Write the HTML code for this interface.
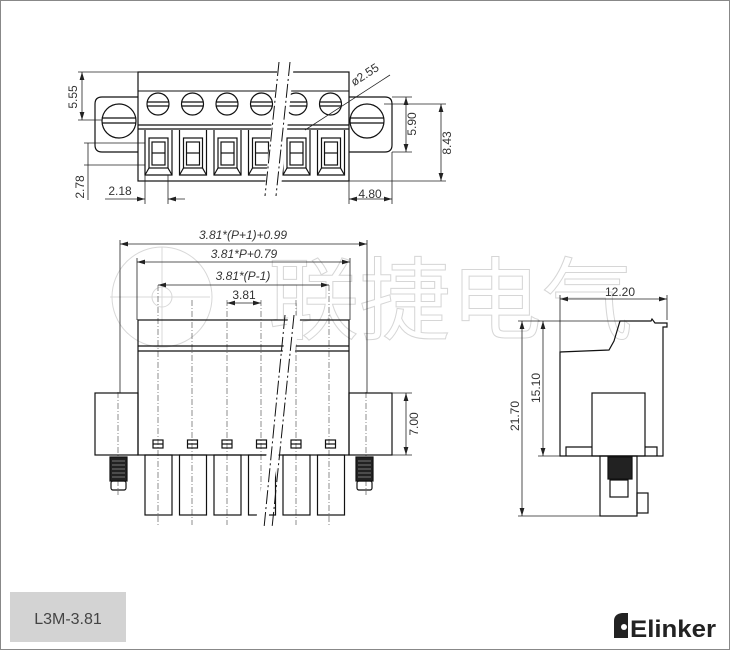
<!DOCTYPE html>
<html><head><meta charset="utf-8"><style>
html,body{margin:0;padding:0;background:#fff}
svg{display:block}
text{font-family:"Liberation Sans",sans-serif;fill:#333}
</style></head><body>
<svg width="730" height="650" viewBox="0 0 730 650" xmlns="http://www.w3.org/2000/svg">
<defs>
<marker id="a" viewBox="0 0 10 6" refX="10" refY="3" markerWidth="8" markerHeight="5" orient="auto-start-reverse" markerUnits="userSpaceOnUse"><path d="M0 0 L10 3 L0 6 Z" fill="#222"/></marker>
</defs>
<rect x="0.5" y="0.5" width="729" height="649" fill="#fff" stroke="#888"/>
<!-- watermark -->
<g stroke="#d8d8d8" fill="none" stroke-width="1">
<circle cx="162" cy="297" r="50"/>
<circle cx="162" cy="297" r="10"/>
<line x1="110" y1="297" x2="210" y2="297"/>
<line x1="162" y1="247" x2="162" y2="347"/>
</g>
<text x="268" y="332" font-size="90" style="font-family:'Noto Sans CJK SC',sans-serif;fill:#fff;stroke:#d6d6d6;stroke-width:1" textLength="365" lengthAdjust="spacingAndGlyphs">联捷电气</text>

<g stroke="#111" fill="none" stroke-width="1.2">
<!-- TOP VIEW -->
<path d="M138 97 H102 Q95 97 95 104 V145 Q95 152 102 152 H138"/>
<path d="M349 97 H385 Q392 97 392 104 V145 Q392 152 385 152 H349"/>
<rect x="138" y="72" width="211" height="109"/>
<line x1="138" y1="91" x2="349" y2="91" stroke-width="1"/>
<line x1="138" y1="125" x2="349" y2="125"/>
<line x1="138" y1="129" x2="349" y2="129"/>
<circle cx="119" cy="121" r="17"/><line x1="102" y1="118" x2="136" y2="118"/><line x1="102" y1="123" x2="136" y2="123"/>
<circle cx="367" cy="121" r="17"/><line x1="350" y1="118" x2="384" y2="118"/><line x1="350" y1="123" x2="384" y2="123"/>
<g id="tc">
<circle cx="158" cy="104" r="11"/><line x1="147" y1="102" x2="169" y2="102"/><line x1="147" y1="106" x2="169" y2="106"/>
<path d="M145 130 V175 H172 V130"/>
<rect x="149" y="138" width="19" height="30"/><rect x="152" y="142" width="13" height="23"/>
<line x1="152" y1="153" x2="165" y2="153"/>
<line x1="145" y1="175" x2="149" y2="168"/><line x1="172" y1="175" x2="168" y2="168"/>
</g>
<use href="#tc" x="34.5"/><use href="#tc" x="69"/><use href="#tc" x="103.5"/><use href="#tc" x="138"/><use href="#tc" x="172.5"/>
</g>
<rect x="271" y="62" width="16" height="136" fill="#fff" transform="rotate(6 279 130)"/>
<g stroke="#111" stroke-width="1" stroke-dasharray="14 3 2 3">
<line x1="279" y1="62" x2="265" y2="196"/><line x1="290" y1="62" x2="276" y2="196"/>
</g>
<!-- top dims -->
<g stroke="#222" stroke-width="0.8" fill="none">
<line x1="78" y1="72" x2="138" y2="72"/><line x1="78" y1="120" x2="102" y2="120"/><line x1="82" y1="72" x2="82" y2="120" marker-start="url(#a)" marker-end="url(#a)"/>
<line x1="84" y1="143" x2="145" y2="143"/><line x1="84" y1="165" x2="145" y2="165"/><line x1="88" y1="143" x2="88" y2="200"/>
<line x1="145" y1="175" x2="145" y2="204"/><line x1="168" y1="175" x2="168" y2="204"/><line x1="105" y1="199" x2="145" y2="199" marker-end="url(#a)"/><line x1="185" y1="199" x2="168" y2="199" marker-end="url(#a)"/>
<line x1="349" y1="181" x2="349" y2="204"/><line x1="392" y1="152" x2="392" y2="204"/><line x1="349" y1="199" x2="392" y2="199" marker-start="url(#a)" marker-end="url(#a)"/>
<line x1="392" y1="97" x2="412" y2="97"/><line x1="392" y1="152" x2="412" y2="152"/><line x1="406" y1="97" x2="406" y2="152" marker-start="url(#a)" marker-end="url(#a)"/>
<line x1="384" y1="104" x2="446" y2="104"/><line x1="349" y1="181" x2="446" y2="181"/><line x1="441" y1="104" x2="441" y2="181" marker-start="url(#a)" marker-end="url(#a)"/>
<line x1="305" y1="130" x2="390" y2="75"/>
</g>
<g fill="#222" font-size="12">
<text transform="translate(77 97) rotate(-90)" text-anchor="middle">5.55</text>
<text transform="translate(84 187) rotate(-90)" text-anchor="middle">2.78</text>
<text x="120" y="195" text-anchor="middle">2.18</text>
<text x="370" y="198" text-anchor="middle">4.80</text>
<text transform="translate(416 124) rotate(-90)" text-anchor="middle">5.90</text>
<text transform="translate(451 143) rotate(-90)" text-anchor="middle">8.43</text>
<text transform="translate(367 78) rotate(-33)" text-anchor="middle">ø2.55</text>
</g>

<!-- FRONT VIEW -->
<g stroke="#444" stroke-width="0.6" stroke-dasharray="6 2 1 2">
<line x1="158" y1="285" x2="158" y2="525"/><line x1="192" y1="300" x2="192" y2="525"/><line x1="227" y1="300" x2="227" y2="525"/>
<line x1="261" y1="300" x2="261" y2="525"/><line x1="296" y1="300" x2="296" y2="525"/><line x1="329" y1="285" x2="329" y2="525"/>
<line x1="118" y1="392" x2="118" y2="495"/><line x1="366" y1="392" x2="366" y2="495"/>
</g>
<g stroke="#111" fill="none" stroke-width="1.2">
<rect x="138" y="320" width="211" height="135"/>
<line x1="138" y1="346" x2="349" y2="346"/><line x1="138" y1="351" x2="349" y2="351"/>
<rect x="95" y="393" width="43" height="62"/><rect x="349" y="393" width="43" height="62"/>
<g id="fp">
<rect x="153" y="440" width="10" height="8"/><line x1="153" y1="444" x2="163" y2="444"/>
<rect x="145" y="455" width="27" height="60"/>
</g>
<use href="#fp" x="34.5"/><use href="#fp" x="69"/><use href="#fp" x="103.5"/><use href="#fp" x="138"/><use href="#fp" x="172.5"/>
<rect x="110" y="457" width="17" height="24" fill="#222"/><rect x="111" y="481" width="15" height="9" rx="2"/>
<rect x="356" y="457" width="17" height="24" fill="#222"/><rect x="357" y="481" width="15" height="9" rx="2"/>
</g>
<g stroke="#777" stroke-width="1">
<line x1="112" y1="461" x2="125" y2="461"/><line x1="112" y1="465" x2="125" y2="465"/><line x1="112" y1="469" x2="125" y2="469"/><line x1="112" y1="473" x2="125" y2="473"/><line x1="112" y1="477" x2="125" y2="477"/>
<line x1="358" y1="461" x2="371" y2="461"/><line x1="358" y1="465" x2="371" y2="465"/><line x1="358" y1="469" x2="371" y2="469"/><line x1="358" y1="473" x2="371" y2="473"/><line x1="358" y1="477" x2="371" y2="477"/>
</g>
<rect x="272" y="314" width="12" height="215" fill="#fff" transform="rotate(9 278 420)"/>
<g stroke="#111" stroke-width="1" stroke-dasharray="14 3 2 3">
<line x1="285" y1="315" x2="264" y2="528"/><line x1="294" y1="315" x2="272" y2="528"/>
</g>
<g stroke="#222" stroke-width="0.8">
<line x1="120" y1="240" x2="120" y2="393"/><line x1="367" y1="240" x2="367" y2="393"/><line x1="120" y1="244" x2="367" y2="244" marker-start="url(#a)" marker-end="url(#a)"/>
<line x1="137" y1="258" x2="137" y2="320"/><line x1="350" y1="258" x2="350" y2="320"/><line x1="137" y1="262" x2="350" y2="262" marker-start="url(#a)" marker-end="url(#a)"/>
<line x1="158" y1="285" x2="329" y2="285" marker-start="url(#a)" marker-end="url(#a)"/>
<line x1="227" y1="303" x2="261" y2="303" marker-start="url(#a)" marker-end="url(#a)"/>
<line x1="392" y1="393" x2="412" y2="393"/><line x1="392" y1="455" x2="412" y2="455"/><line x1="406" y1="393" x2="406" y2="455" marker-start="url(#a)" marker-end="url(#a)"/>
</g>
<g font-size="12">
<text x="243" y="239" text-anchor="middle" font-style="italic">3.81*(P+1)+0.99</text>
<text x="244" y="258" text-anchor="middle" font-style="italic">3.81*P+0.79</text>
<text x="243" y="280" text-anchor="middle" font-style="italic">3.81*(P-1)</text>
<text x="244" y="299" text-anchor="middle">3.81</text>
<text transform="translate(418 424) rotate(-90)" text-anchor="middle">7.00</text>
</g>

<!-- SIDE VIEW -->
<g stroke="#111" fill="none" stroke-width="1.2">
<path d="M560 456 V352 L609 350 L614 341 L620 321 H651 L652 319 L655 323 H667 V327 H663 V456 Z"/>
<rect x="592" y="393" width="53" height="63"/>
<path d="M566 456 V447 H592 M645 447 H657 V456"/>
<rect x="600" y="456" width="37" height="60"/>
<rect x="608" y="457" width="24" height="22" fill="#222"/>
<rect x="610" y="480" width="18" height="17"/>
<rect x="637" y="493" width="11" height="20"/>
</g>
<g stroke="#222" stroke-width="0.8">
<line x1="560" y1="295" x2="560" y2="352"/><line x1="667" y1="295" x2="667" y2="320"/><line x1="560" y1="299" x2="667" y2="299" marker-start="url(#a)" marker-end="url(#a)"/>
<line x1="538" y1="321" x2="620" y2="321"/><line x1="538" y1="456" x2="560" y2="456"/><line x1="543" y1="321" x2="543" y2="456" marker-start="url(#a)" marker-end="url(#a)"/>
<line x1="518" y1="321" x2="540" y2="321"/><line x1="518" y1="516" x2="600" y2="516"/><line x1="522" y1="321" x2="522" y2="516" marker-start="url(#a)" marker-end="url(#a)"/>
</g>
<g font-size="12">
<text x="620" y="296" text-anchor="middle">12.20</text>
<text transform="translate(540 388) rotate(-90)" text-anchor="middle">15.10</text>
<text transform="translate(519 416) rotate(-90)" text-anchor="middle">21.70</text>
</g>

<!-- footer -->
<rect x="10" y="592" width="116" height="50" fill="#d3d3d3"/>
<text x="68" y="624" text-anchor="middle" font-size="16" style="fill:#444">L3M-3.81</text>
<path d="M614 638 V621 Q614 614 622 613 H628 V638 Z" fill="#222"/>
<circle cx="624" cy="627" r="3" fill="#fff"/>
<text x="630" y="637" font-size="24" font-weight="bold" style="fill:#222" textLength="86" lengthAdjust="spacingAndGlyphs">Elinker</text>
</svg>
</body></html>
